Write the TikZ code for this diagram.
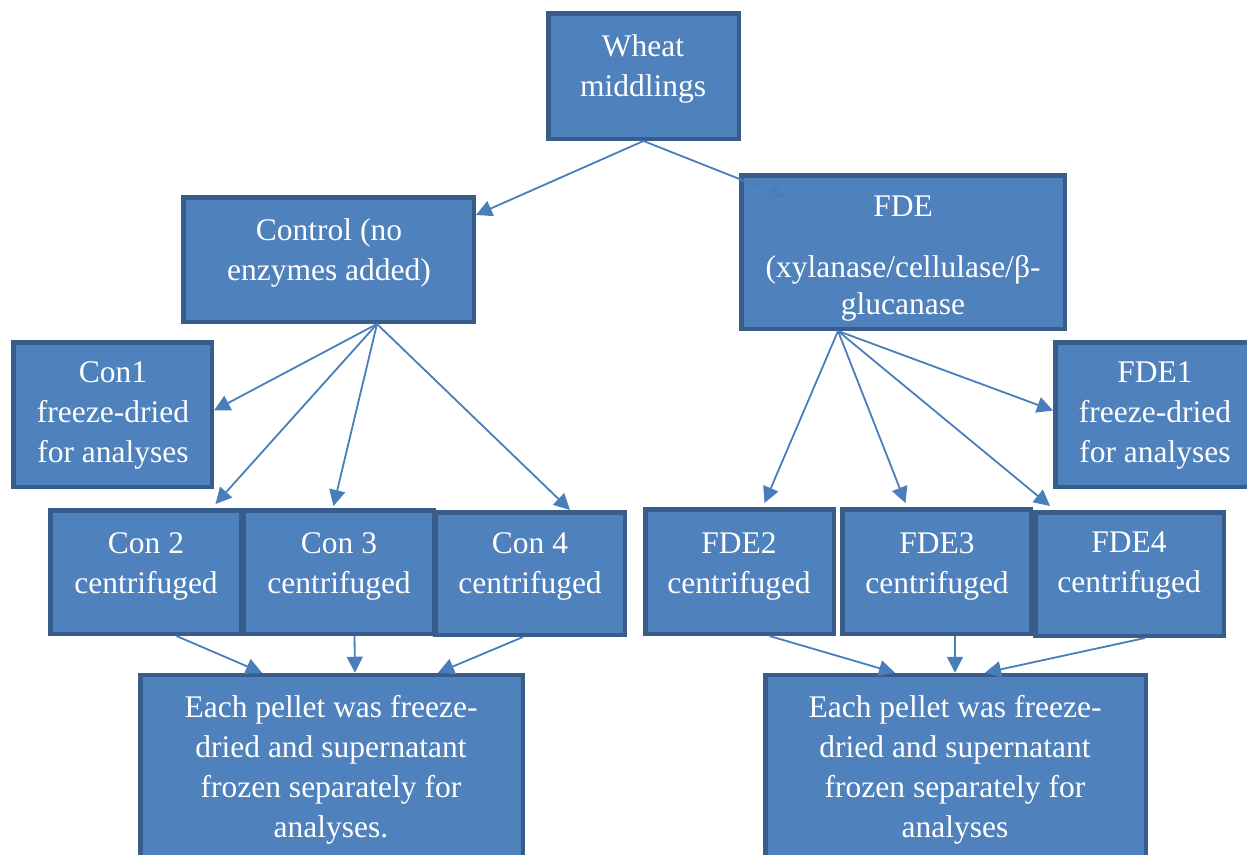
\documentclass[tikz,border=0pt]{standalone}
\usepackage{fontspec}
\setmainfont{Liberation Serif}
\newfontfamily\tnr{Liberation Serif}[Ligatures=TeX]
\usetikzlibrary{arrows.meta}
\definecolor{boxfill}{HTML}{4F81BD}
\definecolor{boxline}{HTML}{385D8A}
\definecolor{arr}{HTML}{4A7EBB}
\begin{document}
\begin{tikzpicture}[x=1pt,y=-1pt,
  box/.style={draw=boxline, fill=boxfill, line width=4.5pt, inner sep=0pt, line join=miter},
  txt/.style={text=white, align=center, font=\tnr\fontsize{31.5}{40}\selectfont, inner sep=0pt},
  conn/.style={draw=arr, line width=1.8pt, -{Triangle[length=16pt,width=16pt]}}]
\path[use as bounding box] (0,0) rectangle (1247,854);
\clip (0,0) rectangle (1247,854);
% boxes
\node[box, minimum width=190.5pt, minimum height=125.5pt] (wheat) at (643.5,76) {};
\node[box, minimum width=290.5pt, minimum height=124.5pt] (ctrl) at (328.5,259.5) {};
\node[box, minimum width=323.5pt, minimum height=153.5pt] (fde) at (903,252) {};
\node[box, minimum width=198.5pt, minimum height=144.5pt] (con1) at (112.5,414.5) {};
\node[box, minimum width=198.5pt, minimum height=144.5pt] (fde1) at (1154.5,414.5) {};
\node[box, minimum width=190.5pt, minimum height=123.5pt] (con2) at (145.5,572) {};
\node[box, minimum width=190.5pt, minimum height=123.5pt] (con3) at (338.5,572) {};
\node[box, minimum width=189.5pt, minimum height=122.5pt] (con4) at (530,573.5) {};
\node[box, minimum width=188.5pt, minimum height=124.5pt] (fde2) at (739.5,571.5) {};
\node[box, minimum width=188.5pt, minimum height=124.5pt] (fde3) at (936.5,571.5) {};
\node[box, minimum width=188.5pt, minimum height=123.5pt] (fde4) at (1129.5,574) {};
\node[box, minimum width=382.5pt, minimum height=200pt] (bl) at (331.5,775) {};
\node[box, minimum width=380.5pt, minimum height=200pt] (br) at (955.5,775) {};
% texts
\node[txt] (twheat) at (643,69) {Wheat\\middlings};
\node[txt] (tctrl) at (329,253) {Control (no\\enzymes added)};
\node[txt] (tfde) at (903,259) {FDE\\[21pt](xylanase/cellulase/β-\\[-3pt]glucanase};
\node[txt] (tcon1) at (113,415) {Con1\\freeze-dried\\for analyses};
\node[txt] (tfde1) at (1155,415) {FDE1\\freeze-dried\\for analyses};
\node[txt] (tcon2) at (146,566) {Con 2\\centrifuged};
\node[txt] (tcon3) at (339,566) {Con 3\\centrifuged};
\node[txt] (tcon4) at (530,566) {Con 4\\centrifuged};
\node[txt] (tfde2) at (739,566) {FDE2\\centrifuged};
\node[txt] (tfde3) at (937,566) {FDE3\\centrifuged};
\node[txt] (tfde4) at (1129,566) {FDE4\\centrifuged};
\node[txt] (tbl) at (331,770) {Each pellet was freeze-\\dried and supernatant\\frozen separately for\\analyses.};
\node[txt] (tbr) at (955,770) {Each pellet was freeze-\\dried and supernatant\\frozen separately for\\analyses};
% connectors
\draw[conn] (wheat.south) -- ([yshift=-20pt]ctrl.north east);
\draw[conn] (wheat.south) -- ([xshift=46pt,yshift=-24pt]fde.north west);
\draw[conn] ([xshift=48.5pt]ctrl.south) -- ([yshift=4pt]con1.east);
\draw[conn] ([xshift=48.5pt]ctrl.south) -- ([xshift=70pt,yshift=4pt]con2.north);
\draw[conn] ([xshift=48.5pt]ctrl.south) -- ([xshift=-5pt,yshift=2pt]con3.north);
\draw[conn] ([xshift=48.5pt]ctrl.south) -- ([xshift=40pt]con4.north);
\draw[conn] ([xshift=-65pt]fde.south) -- ([xshift=25pt,yshift=4pt]fde2.north);
\draw[conn] ([xshift=-65pt]fde.south) -- ([xshift=-31pt,yshift=4pt]fde3.north);
\draw[conn] ([xshift=-65pt]fde.south) -- ([xshift=17pt,yshift=4pt]fde4.north west);
\draw[conn] ([xshift=-65pt]fde.south) -- ([yshift=4pt]fde1.west);
\draw[conn] ([xshift=31pt]con2.south) -- ([xshift=-69.5pt]bl.north);
\draw[conn] ([xshift=16pt]con3.south) -- ([xshift=23.5pt]bl.north);
\draw[conn] ([xshift=-7pt]con4.south) -- ([xshift=106.5pt]bl.north);
\draw[conn] ([xshift=30pt]fde2.south) -- ([xshift=-60.5pt]br.north);
\draw[conn] ([xshift=18.5pt]fde3.south) -- ([xshift=-0.5pt]br.north);
\draw[conn] ([xshift=15.5pt]fde4.south) -- ([xshift=29.5pt]br.north);
\end{tikzpicture}
\end{document}
